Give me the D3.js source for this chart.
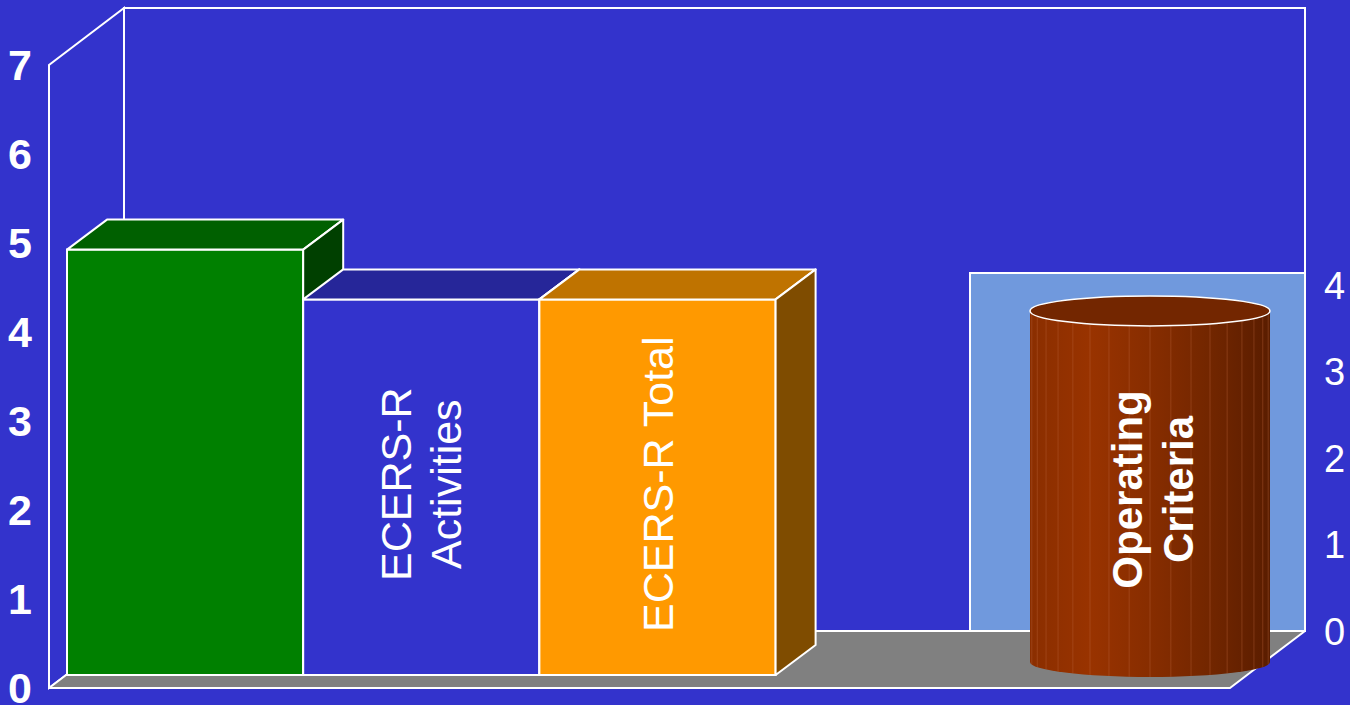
<!DOCTYPE html>
<html>
<head>
<meta charset="utf-8">
<script src="https://cdn.jsdelivr.net/npm/d3@7"></script>
<style>
  html, body { margin: 0; padding: 0; background: #3333cc; }
  svg { display: block; }
  text { font-family: "Liberation Sans", Arial, sans-serif; fill: #ffffff; }
</style>
</head>
<body>
<svg id="chart" width="1350" height="705"></svg>
<script>
// ---------------- data ----------------
const barCategories = ["Series A", "ECERS-R Activities", "ECERS-R Total", "", ""];
const barValues = [4.78, 4.22, 4.22];
const barLabelLines = [[], ["ECERS-R", "Activities"], ["ECERS-R Total"]];
const leftTicks = [0, 1, 2, 3, 4, 5, 6, 7];

const cylCategories = ["Operating Criteria"];
const cylValues = [4.06];
const cylLabelLines = [["Operating", "Criteria"]];
const rightTicks = [0, 1, 2, 3, 4];

// ---------------- styles ----------------
const BG = "#3333cc";
const barStyles = [
  { front: "#008000", top: "#006000", side: "#004000" },
  { front: "#3333cc", top: "#262699", side: "#1a1a66" },
  { front: "#ff9900", top: "#bf7300", side: "#7f4c00" }
];

const svg = d3.select("#chart");
svg.append("rect").attr("width", 1350).attr("height", 705).attr("fill", BG);

// ---------------- scales ----------------
const x = d3.scaleBand().domain(d3.range(barCategories.length)).range([49, 1230]).padding(0);
const yL = d3.scaleLinear().domain([0, 7]).range([688, 65]);
const depth = { dx: 75, dy: -57 };          // full floor depth
const barOff = { dx: 18, dy: -13 };         // bar front plane
const barDepth = { dx: 40, dy: -30 };       // bar thickness

const xr0 = x.range()[0], xr1 = x.range()[1];
const y0 = yL(0), yTop = yL(7);

// back wall outline
svg.append("path")
  .attr("d", `M${xr0 + depth.dx},${y0 + depth.dy} L${xr0 + depth.dx},${yTop + depth.dy} L${xr1 + depth.dx},${yTop + depth.dy} L${xr1 + depth.dx},${y0 + depth.dy}`)
  .attr("fill", "none").attr("stroke", "#fff").attr("stroke-width", 2);

// left wall
svg.append("polygon")
  .attr("points", [[xr0, y0], [xr0, yTop], [xr0 + depth.dx, yTop + depth.dy], [xr0 + depth.dx, y0 + depth.dy]].map(p => p.join(",")).join(" "))
  .attr("fill", BG).attr("stroke", "#fff").attr("stroke-width", 2);

// floor
svg.append("polygon")
  .attr("points", [[xr0, y0], [xr1, y0], [xr1 + depth.dx, y0 + depth.dy], [xr0 + depth.dx, y0 + depth.dy]].map(p => p.join(",")).join(" "))
  .attr("fill", "#808080").attr("stroke", "#fff").attr("stroke-width", 2).attr("stroke-linejoin", "round");

// ---------------- right chart (cylinder) ----------------
const yR = d3.scaleLinear().domain([0, 4.14]).range([631, 273]);
const wallR = { x0: 970, x1: xr1 + depth.dx };
svg.append("rect")
  .attr("x", wallR.x0).attr("y", yR(4.14))
  .attr("width", wallR.x1 - wallR.x0).attr("height", yR(0) - yR(4.14))
  .attr("fill", "#7099dd").attr("stroke", "#fff").attr("stroke-width", 2);

// ---------------- bars ----------------
const bw = x.bandwidth();
const gBars = svg.append("g");
barValues.forEach((v, i) => {
  const st = barStyles[i];
  const x0 = x(i) + barOff.dx, x1 = x0 + bw;
  const yt = yL(v) + barOff.dy, yb = yL(0) + barOff.dy;
  const g = gBars.append("g");
  g.append("rect").attr("x", x0).attr("y", yt).attr("width", bw).attr("height", yb - yt)
    .attr("fill", st.front).attr("stroke", "#fff").attr("stroke-width", 2);
  g.append("polygon")
    .attr("points", [[x0, yt], [x1, yt], [x1 + barDepth.dx, yt + barDepth.dy], [x0 + barDepth.dx, yt + barDepth.dy]].map(p => p.join(",")).join(" "))
    .attr("fill", st.top).attr("stroke", "#fff").attr("stroke-width", 2).attr("stroke-linejoin", "round");
  g.append("polygon")
    .attr("points", [[x1, yt], [x1 + barDepth.dx, yt + barDepth.dy], [x1 + barDepth.dx, yb + barDepth.dy], [x1, yb]].map(p => p.join(",")).join(" "))
    .attr("fill", st.side).attr("stroke", "#fff").attr("stroke-width", 2).attr("stroke-linejoin", "round");
});
// bar labels
barValues.forEach((v, i) => {
  const lines = barLabelLines[i];
  if (!lines.length) return;
  const cx = x(i) + barOff.dx + bw / 2;
  const cy = ((yL(v) + barOff.dy) + (yL(0) + barOff.dy)) / 2 - 3;
  const t = svg.append("text")
    .attr("transform", `translate(${cx},${cy}) rotate(-90)`)
    .attr("text-anchor", "middle")
    .style("font-size", "43px");
  const n = lines.length, sp = 50;
  lines.forEach((ln, k) => {
    t.append("tspan").attr("x", 0).attr("y", (k - (n - 1) / 2) * sp + 15).text(ln);
  });
});

// ---------------- cylinder ----------------
const xc = d3.scaleBand().domain(cylCategories).range([1030, 1270]).padding(0);
const cylOffY = 31;
const defs = svg.append("defs");
const grad = defs.append("linearGradient").attr("id", "cylGrad").attr("x1", "0%").attr("x2", "100%").attr("y1", "0%").attr("y2", "0%");
[["0%", "#8a2e00"], ["25%", "#993300"], ["50%", "#872d00"], ["75%", "#722600"], ["100%", "#5a1d00"]]
  .forEach(s => grad.append("stop").attr("offset", s[0]).attr("stop-color", s[1]));

cylValues.forEach((v, i) => {
  const c = cylCategories[i];
  const rx = xc.bandwidth() / 2, ry = 15;
  const cx = xc(c) + rx;
  const yt = yR(v) + cylOffY, yb = yR(0) + cylOffY;
  const g = svg.append("g");
  g.append("path")
    .attr("d", `M${cx - rx},${yt} L${cx - rx},${yb} A${rx},${ry} 0 0 0 ${cx + rx},${yb} L${cx + rx},${yt} Z`)
    .attr("fill", "url(#cylGrad)");
  // facet lines
  const nF = 18;
  for (let k = 1; k < nF; k++) {
    const fx = cx - rx * Math.cos(Math.PI * k / nF);
    const dyb = ry * Math.sin(Math.PI * k / nF);
    g.append("line").attr("x1", fx).attr("x2", fx).attr("y1", yt).attr("y2", yb + dyb)
      .attr("stroke", "#c06a40").attr("stroke-opacity", 0.35).attr("stroke-width", 1);
  }
  g.append("ellipse").attr("cx", cx).attr("cy", yt).attr("rx", rx).attr("ry", ry)
    .attr("fill", "#732600").attr("stroke", "#fff").attr("stroke-width", 1.5);

  const lines = cylLabelLines[i];
  const t = svg.append("text")
    .attr("transform", `translate(${cx + 2},${(yt + yb) / 2 + 3}) rotate(-90)`)
    .attr("text-anchor", "middle")
    .style("font-size", "42px").style("font-weight", "bold");
  const n = lines.length, sp = 51;
  lines.forEach((ln, k) => {
    t.append("tspan").attr("x", 0).attr("y", (k - (n - 1) / 2) * sp + 15).text(ln);
  });
});

// ---------------- axes labels ----------------
svg.append("g").selectAll("text").data(leftTicks).join("text")
  .attr("x", 20).attr("y", d => yL(d)).attr("dy", "0.36em")
  .attr("text-anchor", "middle")
  .style("font-size", "43px").style("font-weight", "bold")
  .text(d => d);

svg.append("g").selectAll("text").data(rightTicks).join("text")
  .attr("x", 1324).attr("y", d => yR(d)).attr("dy", "0.36em")
  .attr("text-anchor", "start")
  .style("font-size", "38px")
  .text(d => d);
</script>
</body>
</html>
